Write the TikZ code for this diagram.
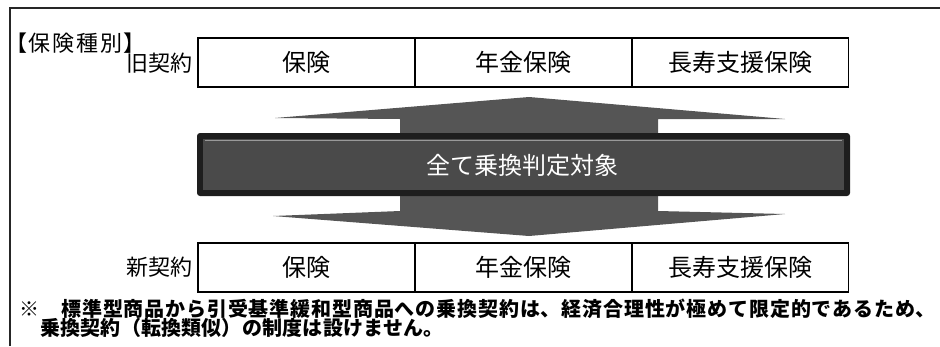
\documentclass[tikz,border=0pt]{standalone}
\usepackage{fontspec}
\setmainfont{Noto Sans CJK JP}[Kerning=Off]
\definecolor{arrowgray}{HTML}{555555}
\definecolor{barouter}{HTML}{1E1E1E}
\definecolor{barinner}{HTML}{4A4A4A}
% typeset every character in a cell of fixed width
\def\fwend{\fwend}
\newcommand\fw[2][1em]{\def\fwwd{#1}\fwloop#2\fwend}
\def\fwloop#1{\ifx#1\fwend\else\fwchar{#1}\expandafter\fwloop\fi}
\newcommand\fwchar[1]{%
  \ifx#1（\makebox[\fwwd][r]{#1}%
  \else\ifx#1【\makebox[\fwwd][r]{#1}%
  \else\ifx#1）\makebox[\fwwd][l]{#1}%
  \else\ifx#1】\makebox[\fwwd][l]{#1}%
  \else\ifx#1、\makebox[\fwwd][l]{#1}%
  \else\ifx#1。\makebox[\fwwd][l]{#1}%
  \else\makebox[\fwwd]{#1}%
  \fi\fi\fi\fi\fi\fi}
\tikzset{
  cell/.style={draw=black, line width=1.2pt, minimum width=217pt, minimum height=49pt, inner sep=0pt, font=\fontsize{24}{24}\selectfont},
  rowlabel/.style={anchor=east, inner sep=0pt, font=\fontsize{22}{22}\selectfont},
  notetext/.style={anchor=west, inner sep=0pt, font=\fontsize{20}{20}\selectfont\bfseries},
  frameline/.style={line width=1.6pt, draw=black!85},
}
\begin{document}
\begin{tikzpicture}[x=1pt,y=-1pt]
\useasboundingbox (0,0) rectangle (940,346);
% outer frame (continues beyond the picture)
\coordinate (fbl) at (10,346);
\coordinate (ftl) at (10,8);
\coordinate (ftr) at (940,8);
\draw[frameline] (fbl) -- (ftl) -- (ftr);

% title
\node[anchor=west, inner sep=0pt, font=\fontsize{22}{22}\selectfont] (title) at (3,43) {\fw[24pt]{【保険種別】}};

% old contracts row
\node[rowlabel] (oldlab) at (193,63) {旧契約};
\node[cell] (o1) at (306.5,62.5) {保険};
\node[cell] (o2) at (523.5,62.5) {年金保険};
\node[cell] (o3) at (740,62.5) {長寿支援保険};

% up-down arrow
\fill[arrowgray] (529,97) -- (785,119) -- (658,119) -- (658,211) -- (785,214)
  -- (529,236) -- (273,216) -- (400,211) -- (400,119) -- (275,118) -- cycle;

% horizontal bar
\fill[barouter, rounded corners=3pt] (197,133) rectangle (850,196);
\fill[barinner] (203,139) rectangle (844,190);
\draw[black!40, line width=0.8pt] (205,140.5) -- (842,140.5);
\node[text=white, inner sep=0pt, font=\fontsize{24}{24}\selectfont] (bar) at (522,165) {全て乗換判定対象};

% new contracts row
\node[rowlabel] (newlab) at (193,267) {新契約};
\node[cell] (n1) at (306.5,267.5) {保険};
\node[cell] (n2) at (523.5,267.5) {年金保険};
\node[cell] (n3) at (740,267.5) {長寿支援保険};

% note
\node[notetext] (note1) at (19,308.5) {\fw[20.85pt]{※　標準型商品から引受基準緩和型商品への乗換契約は、経済合理性が極めて限定的であるため、}};
\node[notetext] (note2) at (40,327.5) {\fw[20.2pt]{乗換契約（転換類似）の制度は設けません。}};
\end{tikzpicture}
\end{document}
